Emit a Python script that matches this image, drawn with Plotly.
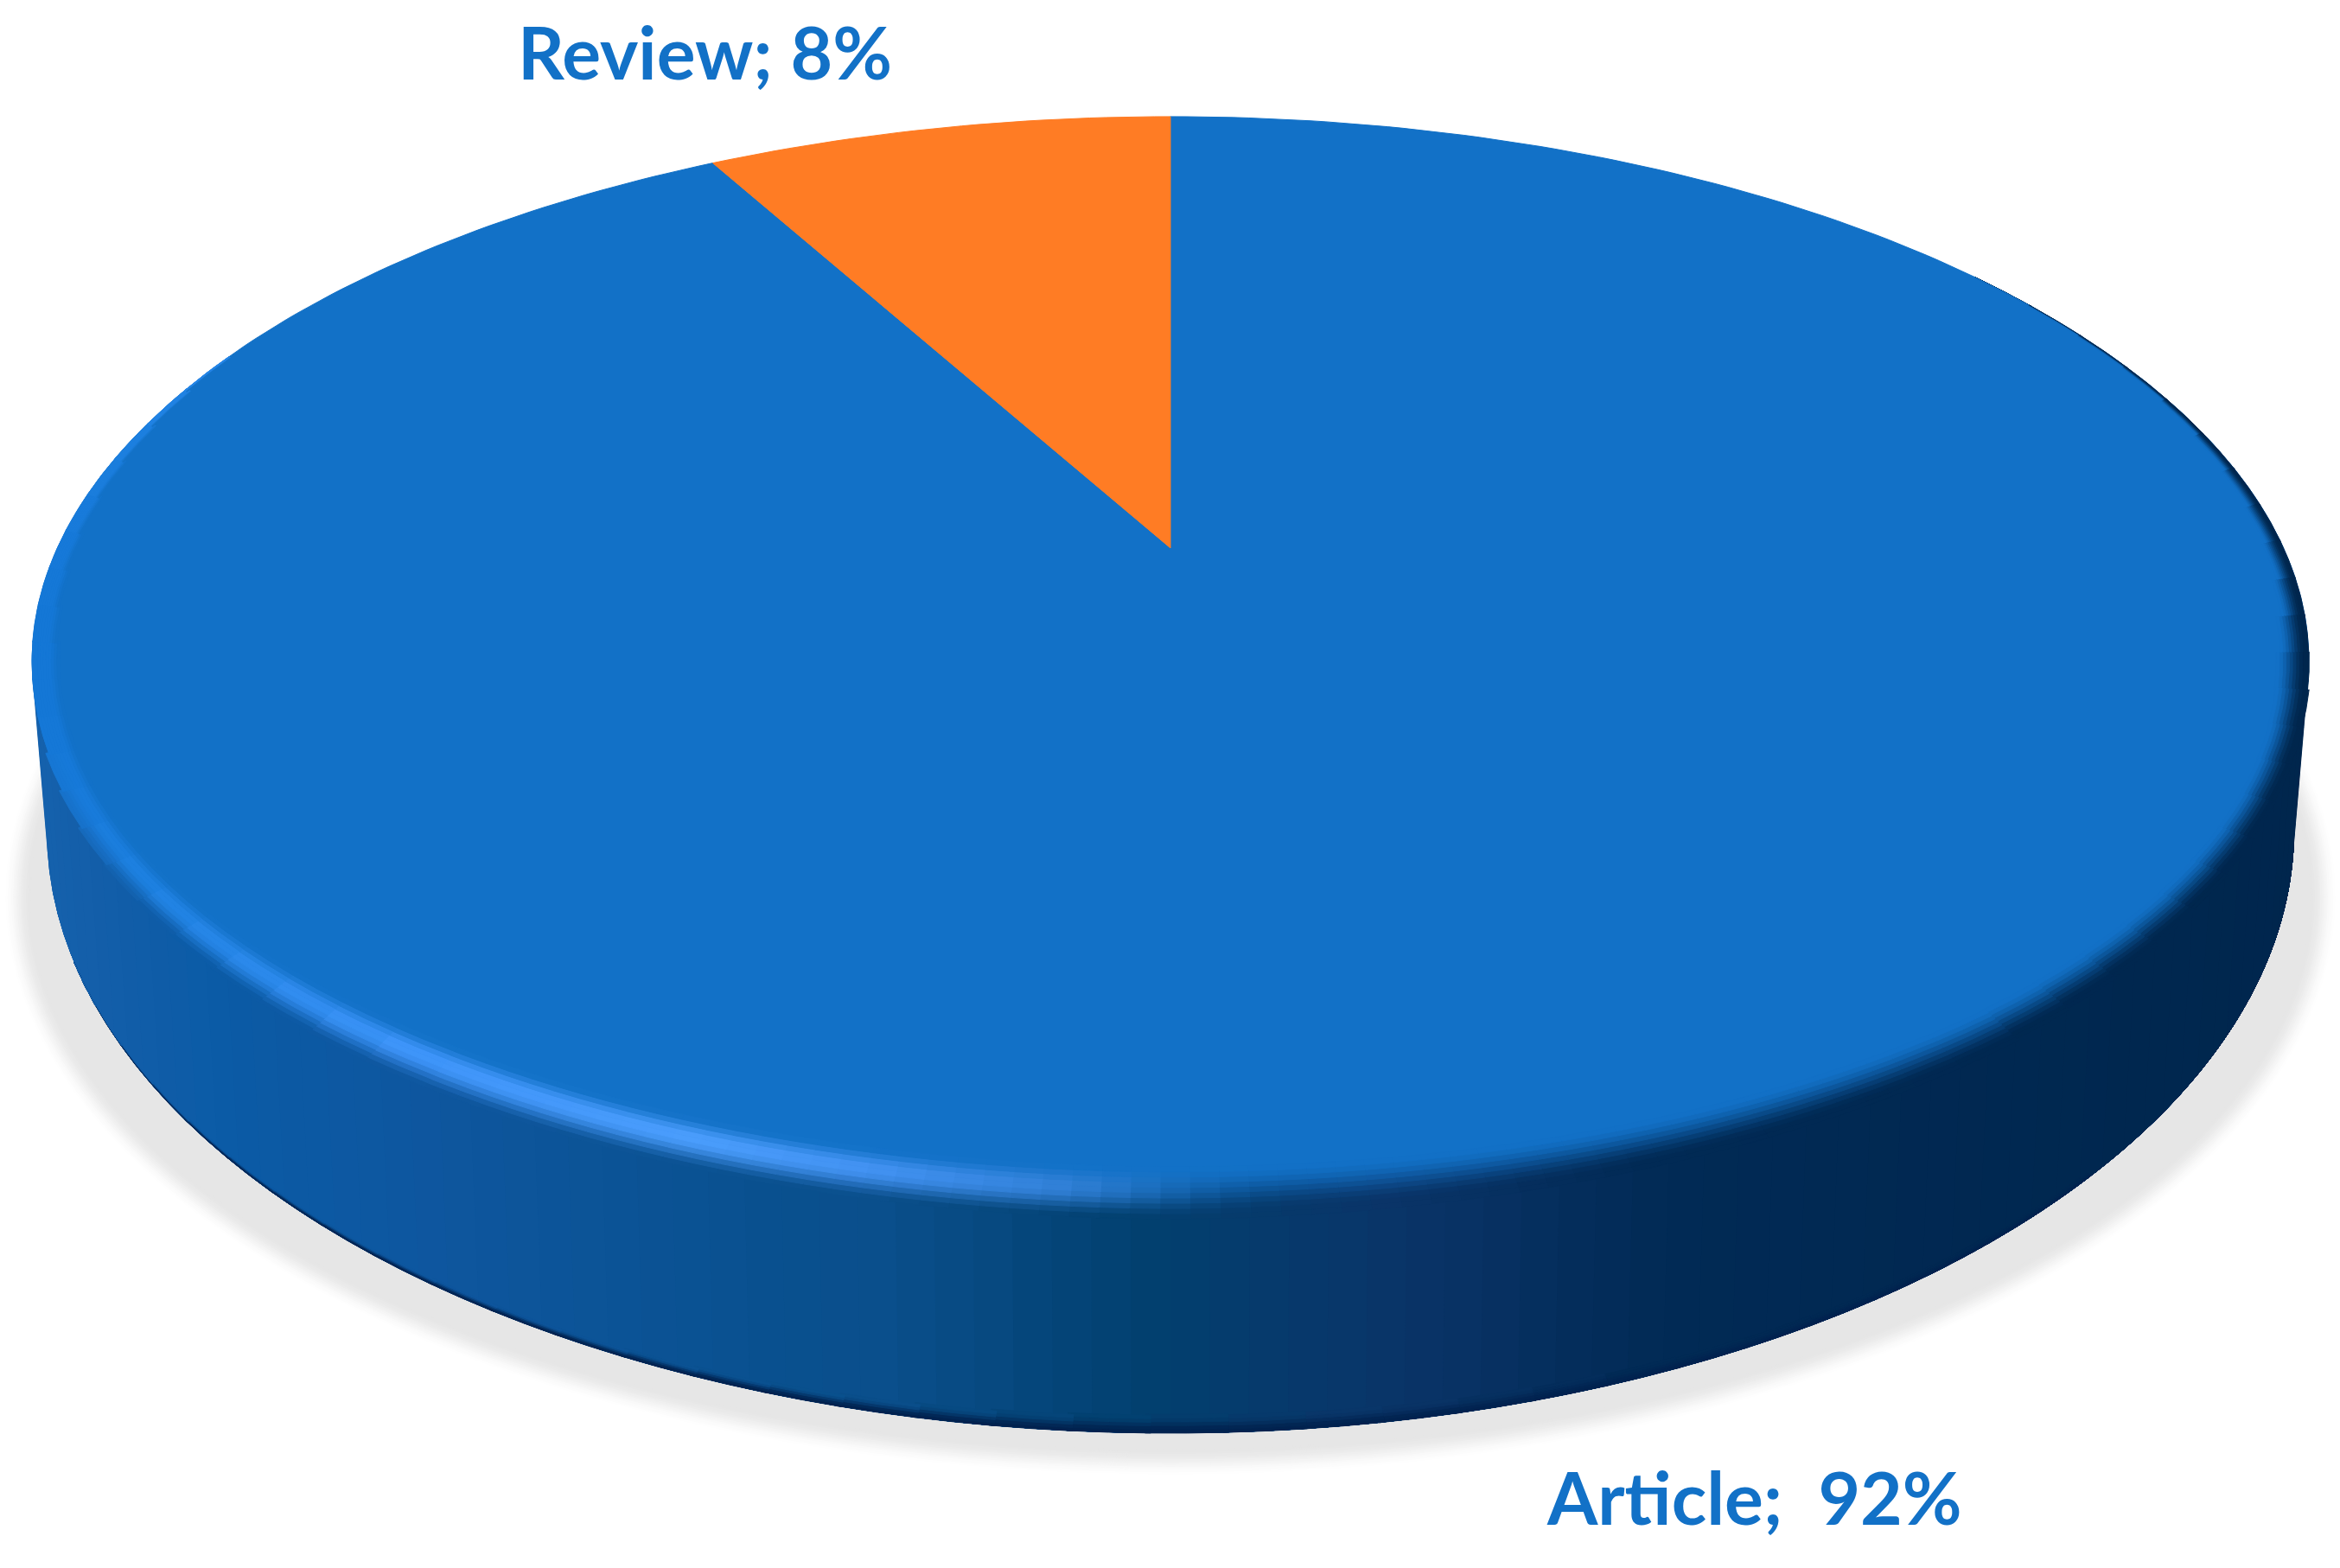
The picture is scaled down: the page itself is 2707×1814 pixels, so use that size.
'''
    Recreates the "Article / Review" 3D pie chart.
    Plotly has no 3D pie, so the disc is built from filled scatter polygons.
'''
import numpy as np
import plotly.graph_objects as go

# Chart data
CATEGORIES = ["Review", "Article"]
VALUES = [8, 92]
SLICE_COLORS = ["#ff7c24", "#1271c7"]
LABEL_TEXTS = ["Review; 8%", "Article;\u00a0 92%"]

# Canvas
WIDTH, HEIGHT = 2707, 1814

# Top face: a circle seen in perspective
CX, APEX_Y = 1354, 634
PERSP = 0.199
SCALE_X, SCALE_Y = 1290.6, 598.4
TOP_CY, TOP_RX, TOP_RY = 758, 1317, 623
SAG = 7

# Bottom rim of the side wall
BOT_CY, BOT_RX, BOT_RY = 960, 1300, 698

# Colours by x position
WALL_X = [38, 120, 250, 500, 900, 1000, 1300, 1600, 1900, 2670]
WALL_C = ["#1662ad", "#135ea9", "#0b5ba6", "#0e569e", "#09508e", "#0a4f8c",
          "#02406f", "#0a3468", "#012a55", "#00264d"]
GLOW_X = [37, 170, 480, 800, 1000, 1250, 1500]
GLOW_C = ["#1477d6", "#1f82e2", "#3f95fa", "#4a9dfc", "#4292f2", "#2f7fd5", "#1271c7"]
FACE = "#1271c7"
RIM_DARK = "#01224f"

# Bevel depth inside and outside the top rim, by angle (0 = right, 90 = bottom)
BEVEL_T = [-45, -30, -10, 0, 45, 90, 135, 180, 205, 215]
BEVEL_IN = [0, 5, 22, 38, 28, 32, 35, 32, 10, 0]
BEVEL_OUT_T = [0, 15, 45, 90, 135, 160, 172]
BEVEL_OUT = [0, 6, 25, 30, 25, 10, 0]

# Dark edge along the bottom of the wall
EDGE_T = [35, 60, 90, 120, 150, 165]
EDGE_D = [6, 12, 22, 9, 4, 0]


def to_rgb(c):
    return np.array([int(c[i:i + 2], 16) for i in (1, 3, 5)], dtype=float)


def mix(a, b, f):
    return a + (b - a) * f


def css(c):
    return "rgb(%d,%d,%d)" % tuple(np.round(c))


def ramp(x, xs, colors):
    rgb = np.array([to_rgb(c) for c in colors])
    return np.array([np.interp(x, xs, rgb[:, i]) for i in range(3)])


def smooth(f):
    f = np.clip(f, 0, 1)
    return f * f * (3 - 2 * f)


def sag(y):
    return y + SAG * (1 - ((y - TOP_CY) / TOP_RY) ** 2)


def project(theta):
    # theta is clockwise from 12 o'clock on the real (round) disc
    den = 1 + PERSP * np.cos(theta)
    return CX + SCALE_X * np.sin(theta) / den, sag(APEX_Y - SCALE_Y * np.cos(theta) / den)


def ellipse(t, cy, rx, ry):
    return CX + rx * np.cos(t), cy + ry * np.sin(t)


def top_ring(t, inset):
    x, y = ellipse(t, TOP_CY, TOP_RX - inset, TOP_RY - inset)
    return x, sag(y)


fig = go.Figure()


def add_poly(x, y, color, seal=True):
    fig.add_trace(go.Scatter(
        x=list(x), y=list(y), mode="lines", fill="toself", fillcolor=color,
        line=dict(color=color, width=1 if seal else 0),
        hoverinfo="skip", showlegend=False))


# Soft shadow under the disc
t_full = np.radians(np.linspace(0, 360, 181))
for f in np.linspace(0, 1, 16):
    grow = 32 * (1 - f)
    color = css(mix(to_rgb("#ffffff"), to_rgb("#e6e6e6"), smooth(f)))
    add_poly(*ellipse(t_full, 1037, 1319 + grow, 640 + grow), color)

# Side wall, painted left to right, each strip covers the rest of the wall
t_steps = np.linspace(180, 0, 91)
for start in t_steps[:-1]:
    arc = np.radians(np.linspace(start, 0, 91))
    xt, yt = top_ring(arc, 0)
    xb, yb = ellipse(arc, BOT_CY, BOT_RX, BOT_RY)
    color = css(ramp(xb[0], WALL_X, WALL_C))
    add_poly(np.r_[xt, xb[::-1]], np.r_[yt, yb[::-1]], color, seal=False)

# Dark lower edge of the wall
for t0 in np.arange(35, 165, 4.0):
    t_arc = np.radians(np.linspace(t0, t0 + 4.3, 3))
    depth = np.interp(t0 + 2, EDGE_T, EDGE_D)
    for j in range(5):
        d0, d1 = depth * j / 5, depth * (j + 1) / 5
        x0, y0 = ellipse(t_arc, BOT_CY, BOT_RX - d0, BOT_RY - d0)
        x1, y1 = ellipse(t_arc, BOT_CY, BOT_RX - d1, BOT_RY - d1)
        wall = ramp(x0[1], WALL_X, WALL_C)
        color = mix(to_rgb(RIM_DARK), wall, smooth(j / 4))
        add_poly(np.r_[x0, x1[::-1]], np.r_[y0, y1[::-1]], css(color))

# Top face slices, angles come from the values
total = sum(VALUES)
review_sweep = 2 * np.pi * VALUES[0] / total
sweeps = [(-review_sweep, 0), (0, 2 * np.pi - review_sweep)]
for i in [1, 0]:
    a0, a1 = sweeps[i]
    theta = np.linspace(a0, a1, max(int((a1 - a0) * 60), 12))
    x, y = project(theta)
    add_poly(np.r_[CX, x, CX], np.r_[APEX_Y, y, APEX_Y], SLICE_COLORS[i])

# Bevel between the top face and the wall, finer along the bottom where x moves fastest
face = to_rgb(FACE)
t_edges = np.r_[np.arange(-45, 50, 4.0), np.arange(50, 130, 1.5), np.arange(130, 216, 4.0)]
LEVELS = np.linspace(0, 1, 11)
for t0, t1 in zip(t_edges[:-1], t_edges[1:]):
    tm = (t0 + t1) / 2
    xm = CX + TOP_RX * np.cos(np.radians(tm))
    wall = ramp(xm, WALL_X, WALL_C)
    glow = ramp(xm, GLOW_X, GLOW_C)
    d_in = np.interp(tm, BEVEL_T, BEVEL_IN)
    d_out = np.interp(tm, BEVEL_OUT_T, BEVEL_OUT) if 0 < tm < 172 else 0
    t_arc = np.radians(np.linspace(t0, t1 + 0.2, 3))
    glow_side = smooth((1500 - xm) / 300)
    outer = mix(glow, wall, smooth((172 - tm) / 20))
    for u0, u1 in zip(LEVELS[:-1], LEVELS[1:]):
        um = (u0 + u1) / 2
        if um < 0.55:
            left = mix(outer, glow, smooth(um / 0.55))
        elif um < 0.62:
            left = glow
        else:
            left = mix(glow, face, smooth((um - 0.62) / 0.38))
        right = mix(wall, face, smooth((um - 0.15) / 0.85))
        color = mix(right, left, glow_side)
        x0, y0 = top_ring(t_arc, mix(-d_out, d_in, u0))
        x1, y1 = top_ring(t_arc, mix(-d_out, d_in, u1))
        add_poly(np.r_[x0, x1[::-1]], np.r_[y0, y1[::-1]], css(color))

# Labels
LABEL_X = [602, 1792]
LABEL_Y = [91, 1763]
for text, lx, ly in zip(LABEL_TEXTS, LABEL_X, LABEL_Y):
    fig.add_annotation(
        x=lx, y=ly, text=text, showarrow=False, xanchor="left", yanchor="bottom",
        yshift=-20, xshift=-4, borderpad=0,
        font=dict(family="Lato", size=84, color=FACE, weight=700))

fig.update_layout(
    width=WIDTH, height=HEIGHT, margin=dict(l=0, r=0, t=0, b=0),
    paper_bgcolor="white", plot_bgcolor="white", showlegend=False,
    xaxis=dict(range=[0, WIDTH], visible=False, fixedrange=True),
    yaxis=dict(range=[HEIGHT, 0], visible=False, fixedrange=True))

fig.write_html("out.html", config=dict(displayModeBar=False),
               post_script="document.body.style.margin='0';")
